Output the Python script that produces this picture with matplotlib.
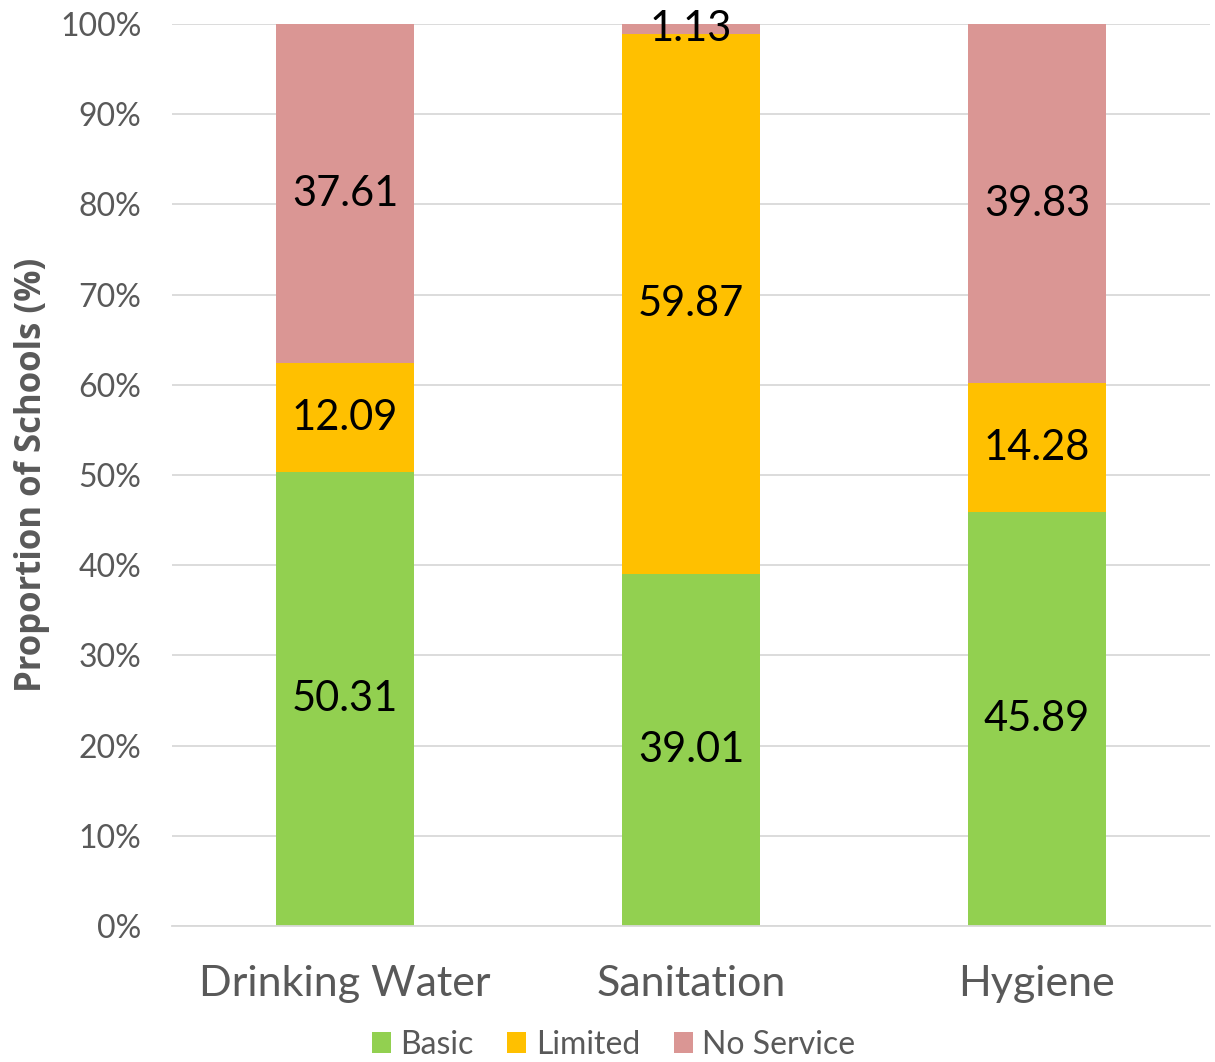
import numpy as np
import matplotlib
matplotlib.use('Agg')
import matplotlib.pyplot as plt

categories = ['Drinking Water', 'Sanitation', 'Hygiene']
series_names = ['Basic', 'Limited', 'No Service']
basic = [50.31, 39.01, 45.89]
limited = [12.09, 59.87, 14.28]
no_service = [37.61, 1.13, 39.83]
colors = ['#92D050', '#FFC000', '#DA9694']

plt.rcParams['font.family'] = ['Lato', 'DejaVu Sans']

data = np.array([basic, limited, no_service])
totals = data.sum(axis=0)
share = data / totals * 100

fig = plt.figure(figsize=(12.15, 10.62), dpi=100)
ax = fig.add_axes([172 / 1215, 136 / 1062, 1038 / 1215, 902 / 1062])

x = np.arange(len(categories))
bottom = np.zeros(len(categories))
for i, name in enumerate(series_names):
    ax.bar(x, share[i], 0.4, bottom=bottom, color=colors[i], label=name, zorder=2)
    for j in range(len(categories)):
        ax.text(x[j], bottom[j] + share[i][j] / 2, '{:.2f}'.format(data[i][j]),
                ha='center', va='center', fontsize=30, color='black', zorder=3)
    bottom += share[i]

ax.set_xlim(-0.5, 2.5)
ax.set_ylim(0, 100)
ax.set_yticks(np.arange(0, 101, 10))
ax.set_yticklabels(['{}%'.format(v) for v in range(0, 101, 10)])
ax.yaxis.grid(True, color='#D9D9D9', linewidth=1.3, zorder=0)
ax.set_axisbelow(True)
for s in ['top', 'right', 'left']:
    ax.spines[s].set_visible(False)
ax.spines['bottom'].set_color('#D9D9D9')
ax.spines['bottom'].set_linewidth(1.3)
ax.tick_params(axis='y', length=0, labelsize=23, labelcolor='#595959', pad=22)
ax.tick_params(axis='x', length=0, labelsize=31, labelcolor='#595959', pad=28)
ax.set_xticks(x)
ax.set_xticklabels(categories)
ax.set_ylabel('Proportion of Schools (%)', fontsize=25, fontweight='bold', color='#595959',
              family=['Open Sans', 'DejaVu Sans'])
ax.yaxis.set_label_coords(-0.118, 0.5)

leg = fig.legend(loc='lower center', bbox_to_anchor=(0.505, -0.025), ncol=3, frameon=False,
                 fontsize=23, handlelength=0.6, handleheight=0.6, handletextpad=0.3,
                 columnspacing=1.05)
for t in leg.get_texts():
    t.set_color('#595959')

fig.savefig('out.png', dpi=100)
